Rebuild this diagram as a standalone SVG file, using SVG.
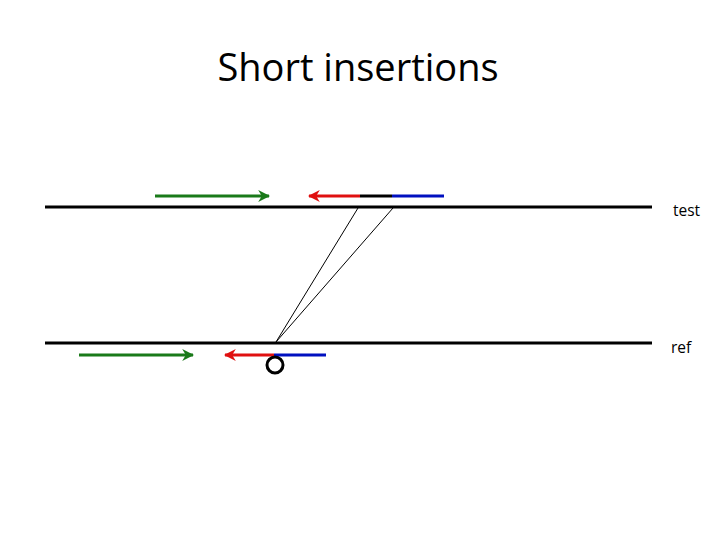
<svg xmlns="http://www.w3.org/2000/svg" width="720" height="540" viewBox="0 0 720 540">
<style>
.t{font-family:"Open Sans","Liberation Sans",sans-serif;fill:#000}
.seq{stroke:#000;stroke-width:3}
.g{stroke:#1a7a1a;stroke-width:3}
.r{stroke:#e01010;stroke-width:3}
.b{stroke:#0010c0;stroke-width:3}
.k{stroke:#000;stroke-width:3}
.thin{stroke:#000;stroke-width:1}
</style>
<defs>
<marker id="ag" viewBox="0 0 10 10" refX="9" refY="5" markerWidth="4" markerHeight="4" orient="auto" markerUnits="strokeWidth"><path d="M0,0 L10,5 L0,10 L3,5 z" fill="#1a7a1a"/></marker>
<marker id="ar" viewBox="0 0 10 10" refX="9" refY="5" markerWidth="4" markerHeight="4" orient="auto" markerUnits="strokeWidth"><path d="M0,0 L10,5 L0,10 L3,5 z" fill="#e01010"/></marker>
</defs>
<rect width="720" height="540" fill="#fff"/>
<text class="t" x="358" y="81" font-size="38" text-anchor="middle">Short insertions</text>
<g id="test">
<line class="seq" x1="45" y1="207" x2="652" y2="207"/>
<text class="t" x="673" y="216" font-size="15.5">test</text>
</g>
<g id="ref">
<line class="seq" x1="45" y1="343" x2="652" y2="343"/>
<text class="t" x="671" y="353" font-size="15.5">ref</text>
</g>
<g id="reads-test">
<line class="g" x1="155" y1="196" x2="269" y2="196" marker-end="url(#ag)"/>
<line class="r" x1="360" y1="196" x2="309" y2="196" marker-end="url(#ar)"/>
<line class="k" x1="360" y1="196" x2="392" y2="196"/>
<line class="b" x1="392" y1="196" x2="444" y2="196"/>
</g>
<g id="reads-ref">
<line class="g" x1="79" y1="355" x2="193" y2="355" marker-end="url(#ag)"/>
<line class="r" x1="274" y1="355" x2="225" y2="355" marker-end="url(#ar)"/>
<line class="b" x1="274" y1="355" x2="326" y2="355"/>
<circle cx="275" cy="365" r="8" fill="none" stroke="#000" stroke-width="3"/>
</g>
<g id="connectors">
<line class="thin" x1="358" y1="208" x2="276" y2="342"/>
<line class="thin" x1="393" y1="208" x2="276" y2="342"/>
</g>
</svg>
